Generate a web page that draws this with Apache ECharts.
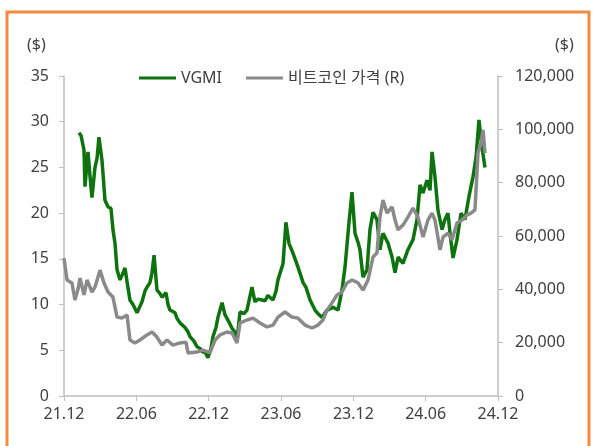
<!DOCTYPE html>
<html>
<head>
<meta charset="utf-8">
<script src="https://cdn.jsdelivr.net/npm/echarts@6/dist/echarts.min.js"></script>
<style>
  html, body { margin: 0; padding: 0; background: #fff; }
  #chart { width: 593px; height: 446px; }
</style>
</head>
<body>
<div id="chart"></div>
<script>
// x positions are months counted from the 21.12 tick
const tickLabels = ['21.12', '22.06', '22.12', '23.06', '23.12', '24.06', '24.12'];

const vgmiMonths = [1.24, 1.41, 1.66, 1.74, 1.99, 2.16, 2.32, 2.57, 2.74, 2.90, 3.15, 3.40, 3.65, 3.90, 4.06, 4.23, 4.40, 4.65, 4.81, 5.06,
  5.23, 5.47, 5.72, 6.06, 6.30, 6.47, 6.72, 6.88, 7.13, 7.30, 7.47, 7.71, 7.96, 8.13, 8.46, 8.63, 8.79, 9.21, 9.37, 9.62,
  10.04, 10.29, 10.45, 10.78, 11.03, 11.28, 11.53, 11.70, 11.94, 12.19, 12.36, 12.61, 12.77, 13.11, 13.35, 13.60, 13.94, 14.18, 14.35, 14.60,
  14.93, 15.18, 15.59, 15.84, 16.09, 16.42, 16.67, 16.92, 17.17, 17.34, 17.59, 17.75, 18.17, 18.41, 18.66, 19.00, 19.41, 19.83, 20.07, 20.41,
  20.82, 21.07, 21.40, 21.82, 22.31, 22.73, 23.06, 23.31, 23.64, 23.89, 24.14, 24.39, 24.55, 24.80, 25.13, 25.38, 25.63, 25.96, 26.21, 26.46,
  26.88, 27.21, 27.46, 27.71, 28.12, 28.53, 28.95, 29.28, 29.53, 29.78, 30.11, 30.36, 30.53, 30.77, 31.02, 31.36, 31.60, 31.85, 32.02, 32.27,
  32.60, 32.93, 33.26, 33.59, 33.93, 34.18, 34.42, 34.67, 34.92];
const vgmiPrice = [28.8, 28.5, 26.9, 22.9, 26.7, 24.0, 21.7, 25.0, 26.0, 28.3, 25.8, 21.4, 20.7, 20.5, 18.2, 16.7, 13.8, 12.7, 13.2, 14.0,
  12.5, 10.5, 10.0, 9.1, 9.8, 10.3, 11.5, 11.9, 12.4, 13.5, 15.4, 11.6, 11.2, 10.8, 11.3, 10.0, 9.4, 9.1, 8.5, 8.0,
  7.5, 7.0, 6.5, 6.0, 5.4, 5.2, 4.8, 4.8, 4.2, 5.2, 6.5, 7.5, 8.6, 10.2, 8.9, 8.3, 7.4, 7.0, 6.1, 9.2,
  9.0, 9.4, 11.9, 10.3, 10.6, 10.5, 10.4, 11.0, 10.7, 10.5, 11.5, 12.7, 14.5, 19.0, 16.7, 15.6, 14.1, 12.4, 11.9, 10.5,
  9.4, 9.0, 8.6, 9.4, 9.7, 9.4, 11.6, 14.1, 19.0, 22.3, 17.8, 16.8, 16.0, 13.0, 13.8, 18.2, 20.1, 19.3, 16.0, 17.8,
  16.7, 15.2, 13.5, 15.2, 14.5, 16.0, 17.1, 19.3, 23.1, 22.2, 23.6, 22.5, 26.7, 24.0, 20.3, 18.2, 19.3, 20.0, 17.8, 15.1,
  17.1, 20.0, 19.3, 21.8, 24.0, 26.1, 30.2, 27.2, 25.0];

const btcMonths = [0, 0.25, 0.66, 0.91, 1.16, 1.33, 1.66, 1.91, 2.32, 2.57, 2.99, 3.32, 3.65, 4.06, 4.40, 4.81, 5.23, 5.47, 5.89, 6.30,
  6.88, 7.30, 7.71, 8.13, 8.54, 9.04, 9.62, 10.12, 10.29, 11.03, 11.53, 12.11, 12.53, 12.94, 13.52, 13.94, 14.35, 14.60, 15.18, 15.68,
  16.26, 16.84, 17.34, 17.75, 18.33, 18.91, 19.41, 19.99, 20.57, 21.07, 21.48, 21.82, 22.23, 22.65, 23.06, 23.47, 23.89, 24.39, 24.80, 25.22,
  25.63, 25.96, 26.21, 26.46, 26.79, 27.21, 27.46, 27.71, 28.12, 28.53, 28.95, 29.36, 29.78, 30.19, 30.53, 30.77, 31.19, 31.44, 31.85, 32.18,
  32.60, 33.01, 33.43, 33.76, 34.09, 34.34, 34.59, 34.76, 34.92];
const btcPrice = [51700, 43500, 42400, 36000, 40000, 44200, 37900, 43500, 39000, 40900, 47200, 42400, 39000, 37100, 29600, 29200, 30400, 21000, 19900, 21000,
  22900, 24000, 22100, 19100, 21000, 19100, 19900, 20200, 16100, 16500, 17200, 16300, 21000, 22900, 24000, 23600, 19900, 27400, 28500, 29200,
  27400, 25900, 26600, 29600, 31500, 29600, 29200, 26600, 25500, 26600, 28500, 32200, 34900, 37900, 39000, 42400, 43500, 42400, 39700, 43500,
  52100, 53600, 67100, 73500, 68600, 70900, 66000, 62300, 64100, 67100, 70500, 67100, 59600, 66000, 68600, 66000, 54800, 59600, 61100, 58500,
  64900, 66000, 67900, 68600, 69800, 91100, 94900, 99800, 91100];

const pair = (xs, ys) => xs.map((x, i) => [x, ys[i]]);

const txt = '#404040';
const axisGray = '#bfbfbf';
const font = '"Noto Sans", "Noto Sans CJK KR", sans-serif';

const chart = echarts.init(document.getElementById('chart'));
chart.setOption({
  animation: false,
  textStyle: { fontFamily: font },
  grid: { left: 64, right: 95, top: 76, bottom: 50 },
  legend: {
    left: 134, top: 65,
    icon: 'rect', itemWidth: 37, itemHeight: 3, itemGap: 24,
    textStyle: { color: txt, fontSize: 16, fontFamily: font },
    data: ['VGMI', '비트코인 가격 (R)']
  },
  graphic: [
    { type: 'rect', shape: { x: 7, y: 12, width: 582, height: 460 },
      style: { fill: 'none', stroke: '#f28b3f', lineWidth: 3 }, silent: true },
    { type: 'text', left: 27, top: 37, style: { text: '($)', fill: txt, font: '16px ' + font } },
    { type: 'text', left: 555, top: 37, style: { text: '($)', fill: txt, font: '16px ' + font } }
  ],
  xAxis: {
    type: 'value', min: 0, max: 36, interval: 6,
    axisLine: { lineStyle: { color: axisGray, width: 1.5 } },
    axisTick: { show: true, length: 5, lineStyle: { color: axisGray } },
    splitLine: { show: false },
    axisLabel: { color: txt, fontSize: 16, margin: 10, formatter: v => tickLabels[Math.round(v / 6)] }
  },
  yAxis: [
    {
      type: 'value', min: 0, max: 35, interval: 5,
      axisLine: { show: true, lineStyle: { color: axisGray, width: 1.5 } },
      axisTick: { show: true, length: 5, lineStyle: { color: axisGray } },
      splitLine: { show: false },
      axisLabel: { color: txt, fontSize: 16, margin: 15 }
    },
    {
      type: 'value', min: 0, max: 120000, interval: 20000,
      axisLine: { show: true, lineStyle: { color: axisGray, width: 1.5 } },
      axisTick: { show: true, length: 5, lineStyle: { color: axisGray } },
      splitLine: { show: false },
      axisLabel: { color: txt, fontSize: 16, margin: 17, formatter: v => v.toLocaleString('en-US') }
    }
  ],
  series: [
    {
      name: 'VGMI', type: 'line', yAxisIndex: 0, showSymbol: false, symbol: 'none',
      lineStyle: { color: '#0e730e', width: 3.5 }, itemStyle: { color: '#0e730e' },
      data: pair(vgmiMonths, vgmiPrice), z: 2
    },
    {
      name: '비트코인 가격 (R)', type: 'line', yAxisIndex: 1, showSymbol: false, symbol: 'none',
      lineStyle: { color: '#8a8a8a', width: 3.5 }, itemStyle: { color: '#8a8a8a' },
      data: pair(btcMonths, btcPrice), z: 3
    }
  ]
});
</script>
</body>
</html>
